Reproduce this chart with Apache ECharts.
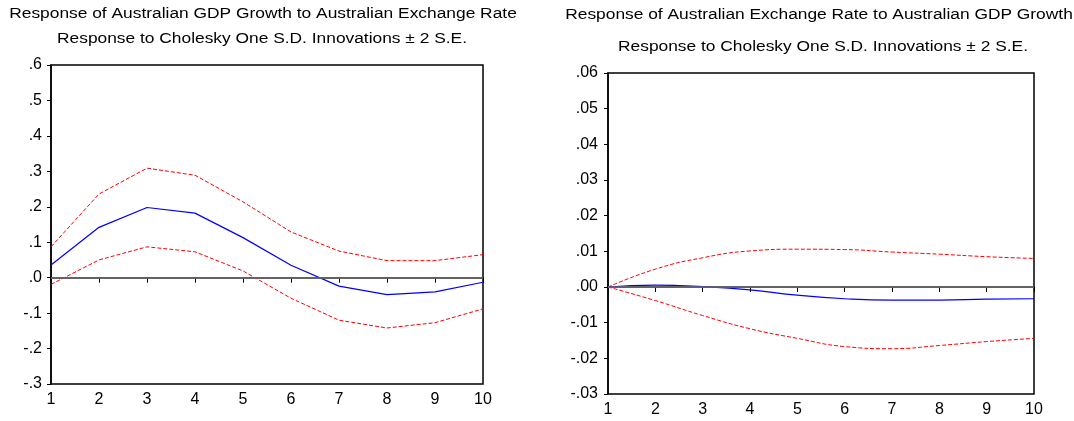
<!DOCTYPE html>
<html><head><meta charset="utf-8">
<script src="https://cdn.jsdelivr.net/npm/echarts@6/dist/echarts.min.js"></script>
<style>html,body{margin:0;padding:0;background:#fff}#c{width:1074px;height:421px}</style>
</head><body><div id="c"></div>
<script>
const periods = ['1','2','3','4','5','6','7','8','9','10'];
// Left: Response of Australian GDP Growth to Australian Exchange Rate
const gdpResp  = [0.036, 0.142, 0.198, 0.182, 0.113, 0.035, -0.024, -0.048, -0.040, -0.013];
const gdpUpper = [0.087, 0.236, 0.309, 0.289, 0.214, 0.129, 0.075, 0.048, 0.048, 0.065];
const gdpLower = [-0.019, 0.050, 0.087, 0.073, 0.019, -0.058, -0.120, -0.142, -0.127, -0.088];
// Right: Response of Australian Exchange Rate to Australian GDP Growth
const exResp  = [0.0000, 0.0005, 0.0001, -0.0008, -0.0023, -0.0033, -0.0037, -0.0037, -0.0034, -0.0033];
const exUpper = [0.0000, 0.0050, 0.0082, 0.0101, 0.0106, 0.0105, 0.0098, 0.0092, 0.0085, 0.0080];
const exLower = [0.0000, -0.0038, -0.0080, -0.0117, -0.0144, -0.0167, -0.0173, -0.0164, -0.0153, -0.0144];

const titleLeft1 = 'Response of Australian GDP Growth to Australian Exchange Rate';
const titleRight1 = 'Response of Australian Exchange Rate to Australian GDP Growth';
const subTitle = 'Response to Cholesky One S.D. Innovations \u00b1 2 S.E.';

const FONT = '"Liberation Sans", Arial, sans-serif';
const chart = echarts.init(document.getElementById('c'), null, {renderer:'canvas'});

function fmt(d){ return v => { let s = Math.abs(v).toFixed(d).replace(/^0\./,'.'); return (v < -1e-9 ? '-' : '') + s; }; }

function titleText(text, x, y){
  return {type:'text', x, y, scaleX:1.12, silent:true,
    style:{text, fill:'#000', font:'15.5px ' + FONT, textAlign:'center', textVerticalAlign:'middle'}};
}
function xAx(i){ return {gridIndex:i, type:'category', data:periods, boundaryGap:false,
  axisLine:{lineStyle:{color:'#000', width:1.5}}, axisTick:{show:true, alignWithLabel:true, length:5, lineStyle:{color:'#000'}},
  axisLabel:{fontFamily:FONT, fontSize:16, color:'#000', margin:8}, splitLine:{show:false}}; }
function yAx(i, min, max, interval, d, margin){ return {gridIndex:i, type:'value', min, max, interval,
  axisLine:{show:true, lineStyle:{color:'#000', width:1.5}}, axisTick:{show:true, length:4, lineStyle:{color:'#000'}},
  axisLabel:{fontFamily:FONT, fontSize:16, color:'#000', margin, formatter: fmt(d)}, splitLine:{show:false}}; }

function lines(i, resp, up, lo, smooth){
  const zero = {silent:true, symbol:'none', label:{show:false}, lineStyle:{color:'#707070', type:'solid', width:1.5}, data:[{yAxis:0}]};
  return [
    {type:'line', xAxisIndex:i, yAxisIndex:i, data:up, symbol:'none', smooth, lineStyle:{color:'#ff0000', width:1, type:[4,2]}, z:3},
    {type:'line', xAxisIndex:i, yAxisIndex:i, data:lo, symbol:'none', smooth, lineStyle:{color:'#ff0000', width:1, type:[4,2]}, z:3},
    {type:'line', xAxisIndex:i, yAxisIndex:i, data:resp, symbol:'none', smooth, lineStyle:{color:'#0000ff', width:1.2}, z:4, markLine:zero}
  ];
}

chart.setOption({
  animation:false,
  graphic:[
    titleText(titleLeft1, 263, 13.5),
    titleText(subTitle, 262, 38.5),
    titleText(titleRight1, 819, 15),
    titleText(subTitle, 823, 47)
  ],
  grid:[
    {left:51, right:591, top:65, bottom:37, show:true, borderColor:'#000', borderWidth:1.5, backgroundColor:'#fff'},
    {left:608, right:40, top:73, bottom:27, show:true, borderColor:'#000', borderWidth:1.5, backgroundColor:'#fff'}
  ],
  xAxis:[xAx(0), xAx(1)],
  yAxis:[yAx(0, -0.3, 0.6, 0.1, 1, 9), yAx(1, -0.03, 0.06, 0.01, 2, 10)],
  series:[...lines(0, gdpResp, gdpUpper, gdpLower, false), ...lines(1, exResp, exUpper, exLower, true)]
});
</script></body></html>
